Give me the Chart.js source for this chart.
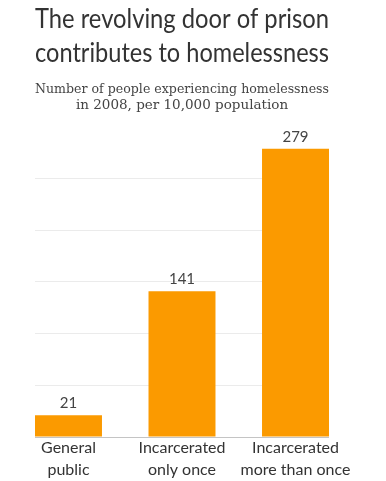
<!DOCTYPE html>
<html>
<head>
<meta charset="utf-8">
<script src="https://cdn.jsdelivr.net/npm/chart.js@4"></script>
<style>
  html, body { margin: 0; padding: 0; background: #fff; }
  #wrap { width: 386px; height: 481px; }
</style>
</head>
<body>
<div id="wrap"><canvas id="chart"></canvas></div>
<script>
/* data */
var categories = [['General', 'public'], ['Incarcerated', 'only once'], ['Incarcerated', 'more than once']];
var values = [21, 141, 279];
var yTicks = [0, 50, 100, 150, 200, 250, 300];

var titleLines = ['The revolving door of prison', 'contributes to homelessness'];
var subtitleLines = ['Number of people experiencing homelessness', 'in 2008, per 10,000 population'];

var orange = '#fb9a00';

// numbers above bars
var valueLabels = {
    id: 'valueLabels',
    afterDatasetsDraw: function (chart) {
        var ctx = chart.ctx;
        var meta = chart.getDatasetMeta(0);
        ctx.save();
        ctx.font = '15px Lato';
        ctx.fillStyle = '#444';
        ctx.textAlign = 'center';
        ctx.textBaseline = 'middle';
        meta.data.forEach(function (bar, i) {
            ctx.fillText(values[i], bar.x, bar.y - 12);
        });
        ctx.restore();
    }
};

var ctx = document.getElementById('chart').getContext('2d');
var chart = new Chart(ctx, {
    type: 'bar',
    data: {
        datasets: [{
            data: values.map(function (v, i) { return { x: i, y: v }; }),
            backgroundColor: orange,
            borderWidth: 0,
            barPercentage: 0.59,
            categoryPercentage: 1
        }]
    },
    options: {
        responsive: true,
        maintainAspectRatio: false,
        animation: false,
        layout: { padding: { left: 35, right: 57, top: 0, bottom: 0 } },
        plugins: {
            legend: { display: false },
            tooltip: { enabled: false },
            title: {
                display: true,
                text: titleLines,
                color: '#333',
                font: { family: 'Lato', size: 27, weight: 'normal', lineHeight: 1.26 },
                padding: { top: 2, bottom: 4 }
            },
            subtitle: {
                display: true,
                text: subtitleLines,
                color: '#444',
                font: { family: 'DejaVu Serif', size: 13.5, lineHeight: 1.22 },
                padding: { top: 7, bottom: 13 }
            }
        },
        scales: {
            x: {
                type: 'linear',
                offset: false,
                min: -0.295,
                max: categories.length - 1 + 0.295,
                afterBuildTicks: function (axis) {
                    axis.ticks = categories.map(function (c, i) { return { value: i }; });
                },
                grid: { display: false, drawTicks: false },
                border: { display: false },
                ticks: {
                    autoSkip: false,
                    maxRotation: 0,
                    padding: 0,
                    color: '#333',
                    font: { family: 'Lato', size: 16, lineHeight: 1.375 },
                    callback: function (v) { return categories[v]; }
                }
            },
            y: {
                min: 0,
                max: 300,
                afterBuildTicks: function (axis) {
                    axis.ticks = yTicks.map(function (v) { return { value: v }; });
                },
                ticks: { display: false },
                border: { display: false },
                grid: {
                    drawTicks: false,
                    color: function (c) {
                        if (c.tick.value === 0) return '#c4c4c4';
                        if (c.tick.value === 300) return 'rgba(0,0,0,0)';
                        return '#ebebeb';
                    }
                }
            }
        }
    },
    plugins: [valueLabels]
});
</script>
</body>
</html>
